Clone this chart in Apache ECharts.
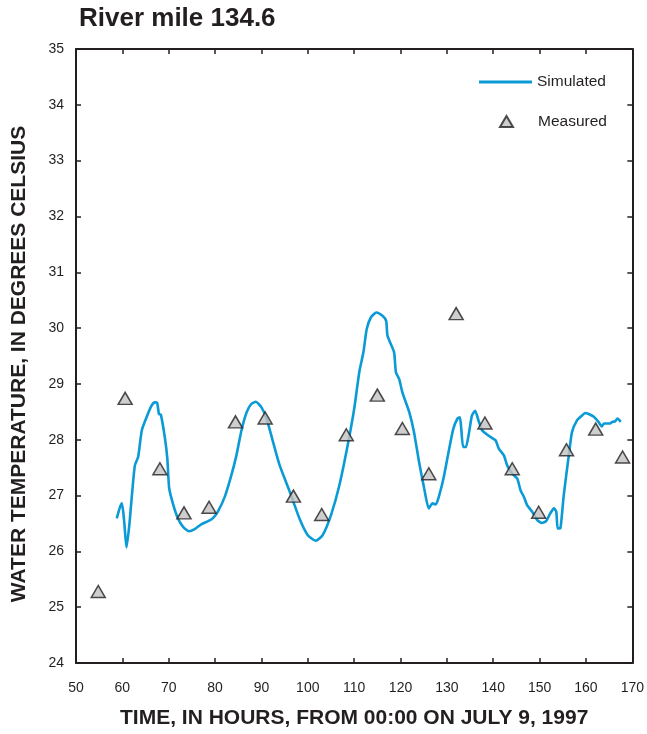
<!DOCTYPE html>
<html>
<head>
<meta charset="utf-8">
<script src="https://cdn.jsdelivr.net/npm/echarts@6/dist/echarts.min.js"></script>
<style>html,body{margin:0;padding:0;background:#fff;}#c{width:647px;height:734px;}</style>
</head>
<body>
<div id="c"></div>
<script>
const titleText = 'River mile 134.6';
const xName = 'TIME, IN HOURS, FROM 00:00 ON JULY 9, 1997';
const yName = 'WATER TEMPERATURE, IN DEGREES CELSIUS';

const simHours = [58.8,59.4,59.9,60.4,60.9,61.5,62.0,62.7,63.4,64.2,65.2,66.3,67.0,67.5,67.9,68.3,69.2,69.7,70.1,71.0,72.0,73.1,74.4,75.6,77.1,78.5,79.6,80.6,82.1,83.5,84.6,85.7,86.8,87.8,88.8,90.0,91.1,92.5,93.9,96.1,98.2,100.0,101.7,103.2,105.0,106.8,108.6,110.0,111.1,112.0,112.7,113.6,114.8,116.1,116.9,117.2,118.6,119.0,119.7,120.4,121.9,122.9,124.0,125.1,126.1,126.9,127.6,128.5,129.4,130.5,131.4,132.3,132.8,133.1,133.5,134.1,134.8,135.4,136.1,136.8,137.6,138.7,139.8,140.5,141.2,142.3,143.0,144.1,145.2,145.9,146.6,147.3,148.4,149.5,150.5,151.4,152.3,153.1,153.6,153.9,154.5,155.2,156.3,157.0,158.1,159.1,159.8,160.6,161.7,162.7,163.4,163.9,164.5,165.2,165.7,166.3,166.8,167.2,167.5];
const simTemps = [26.59,26.77,26.86,26.53,26.07,26.47,26.95,27.54,27.69,28.17,28.40,28.61,28.67,28.66,28.46,28.45,28.02,27.66,27.13,26.83,26.59,26.44,26.36,26.40,26.49,26.54,26.60,26.71,26.98,27.36,27.72,28.17,28.49,28.64,28.68,28.58,28.38,27.96,27.55,27.07,26.59,26.29,26.19,26.29,26.65,27.18,27.90,28.55,29.21,29.57,29.98,30.19,30.28,30.22,30.13,29.86,29.57,29.21,29.09,28.85,28.49,28.14,27.60,27.13,26.77,26.86,26.84,27.05,27.36,27.84,28.20,28.38,28.40,28.20,27.87,27.87,28.14,28.43,28.52,28.35,28.17,28.09,28.03,27.99,27.84,27.72,27.54,27.39,27.30,27.09,26.98,26.83,26.71,26.56,26.51,26.54,26.68,26.77,26.71,26.41,26.42,27.00,27.72,28.14,28.35,28.43,28.48,28.46,28.41,28.32,28.24,28.29,28.29,28.29,28.32,28.33,28.38,28.35,28.32];

const measHours = [54.8,60.6,68.1,73.3,78.7,84.4,90.8,96.9,103.0,108.3,115.0,120.4,126.1,132.0,138.2,144.1,149.8,155.8,162.1,167.9];
const measTemps = [25.28,28.74,27.48,26.69,26.79,28.32,28.39,26.99,26.66,28.09,28.80,28.20,27.39,30.26,28.30,27.48,26.70,27.82,28.19,27.69];

const xMin = 50, xMax = 170, xStep = 10;
const yMin = 24, yMax = 35, yStep = 1;

const simData = simHours.map((h, i) => [h, simTemps[i]]);
const measData = measHours.map((h, i) => [h, measTemps[i]]);

const FONT = '"Liberation Sans", Arial, Helvetica, sans-serif';
const INK = '#231f20';
const BLUE = '#0a9ad6';

const axisLine = { show: true, lineStyle: { color: INK, width: 2 } };
const tick = { show: true, inside: true, length: 5, lineStyle: { color: INK, width: 1.5 } };

const chart = echarts.init(document.getElementById('c'), null, { renderer: 'canvas' });
chart.setOption({
  animation: false,
  backgroundColor: '#ffffff',
  textStyle: { fontFamily: FONT },
  title: {
    text: titleText, left: 79, top: 6, padding: 0,
    textStyle: { fontFamily: FONT, fontWeight: 'bold', fontSize: 26, color: INK }
  },
  grid: { left: 76, right: 13, top: 49, bottom: 69, containLabel: false },
  legend: [
    {
      data: [{ name: 'Simulated', icon: 'rect' }],
      left: 479, top: 74, padding: 0, itemWidth: 53, itemHeight: 3, itemGap: 0,
      textStyle: { fontFamily: FONT, fontSize: 15.5, color: INK }
    },
    {
      data: [{ name: 'Measured', icon: 'triangle' }],
      left: 499, top: 113.5, padding: 0, itemWidth: 13, itemHeight: 11, itemGap: 0,
      textStyle: { fontFamily: FONT, fontSize: 15.5, color: INK, padding: [0,0,0,20] }
    }
  ],
  xAxis: [
    {
      type: 'value', min: xMin, max: xMax, interval: xStep,
      name: xName, nameLocation: 'middle', nameGap: 45,
      nameTextStyle: { fontFamily: FONT, fontWeight: 'bold', fontSize: 21, color: INK },
      axisLine, axisTick: tick, splitLine: { show: false },
      axisLabel: { fontFamily: FONT, fontSize: 14, color: INK, margin: 18 }
    },
    {
      type: 'value', min: xMin, max: xMax, interval: xStep, position: 'top',
      axisLine, axisTick: tick, splitLine: { show: false }, axisLabel: { show: false }
    }
  ],
  yAxis: [
    {
      type: 'value', min: yMin, max: yMax, interval: yStep,
      name: yName, nameLocation: 'middle', nameGap: 46,
      nameTextStyle: { fontFamily: FONT, fontWeight: 'bold', fontSize: 21, color: INK, padding: [0, 16, 0, 0] },
      axisLine, axisTick: tick, splitLine: { show: false },
      axisLabel: { fontFamily: FONT, fontSize: 14, color: INK, margin: 12 }
    },
    {
      type: 'value', min: yMin, max: yMax, interval: yStep, position: 'right',
      axisLine, axisTick: tick, splitLine: { show: false }, axisLabel: { show: false }
    }
  ],
  series: [
    {
      name: 'Simulated', type: 'line', data: simData, showSymbol: false, smooth: 0.2,
      lineStyle: { color: BLUE, width: 2.6 }, itemStyle: { color: BLUE }, z: 2
    },
    {
      name: 'Measured', type: 'scatter', data: measData, symbol: 'triangle', symbolSize: [14, 12],
      itemStyle: { color: '#c2c2c2', borderColor: INK, borderWidth: 1.5 }, z: 3
    }
  ]
});
</script>
</body>
</html>
